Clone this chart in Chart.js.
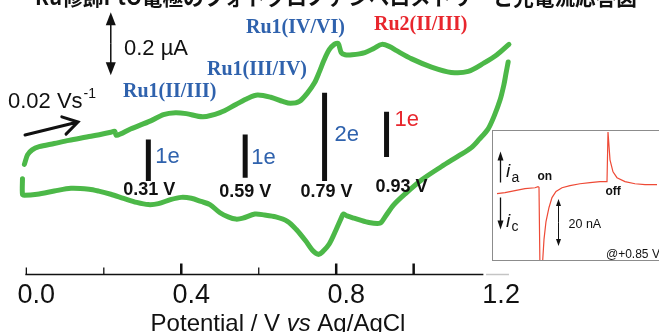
<!DOCTYPE html>
<html>
<head>
<meta charset="utf-8">
<script src="https://cdn.jsdelivr.net/npm/chart.js@4.4.1/dist/chart.umd.min.js"></script>
<style>
  html, body { margin: 0; padding: 0; background: #fff; overflow: hidden; }
  #wrap { position: relative; width: 659px; height: 332px; }
  #cv { position: absolute; left: 0; top: 0; }
  #inset { position: absolute; left: 492px; top: 130px; width: 170px; height: 129px;
           border: 1.5px solid #8c8c8c; background: #fff; }
  #insetCv { display: block; }
</style>
</head>
<body>
<div id="wrap">
  <canvas id="cv" width="659" height="332"></canvas>
  <div id="inset"><canvas id="insetCv" width="170" height="129"></canvas></div>
</div>
<script>
// === Voltammogramme cyclique : valeurs (V, µA relatifs) ===
const forwardV = [-0.005, 0.003, 0.015, 0.033, 0.072, 0.110, 0.167, 0.218, 0.228, 0.233, 0.269, 0.321, 0.354, 0.385, 0.413, 0.456, 0.500, 0.541, 0.572, 0.597, 0.631, 0.662, 0.682, 0.705, 0.726, 0.744, 0.756, 0.769, 0.782, 0.795, 0.805, 0.813, 0.823, 0.841, 0.874, 0.897, 0.918, 0.938, 0.956, 0.995, 1.046, 1.097, 1.141, 1.182, 1.215, 1.246];
const forwardI = [-0.202, -0.172, -0.156, -0.146, -0.136, -0.126, -0.113, -0.100, -0.097, -0.110, -0.090, -0.064, -0.044, -0.038, -0.041, -0.051, -0.038, -0.012, 0.008, 0.018, 0.011, -0.002, -0.008, -0.002, 0.025, 0.057, 0.090, 0.130, 0.162, 0.179, 0.182, 0.153, 0.146, 0.146, 0.153, 0.166, 0.179, 0.172, 0.159, 0.133, 0.107, 0.090, 0.093, 0.120, 0.146, 0.179];

const reverseV = [1.244, 1.238, 1.233, 1.223, 1.208, 1.192, 1.169, 1.149, 1.115, 1.072, 1.021, 0.977, 0.949, 0.926, 0.913, 0.882, 0.846, 0.828, 0.818, 0.813, 0.800, 0.782, 0.764, 0.754, 0.738, 0.721, 0.697, 0.674, 0.644, 0.615, 0.590, 0.559, 0.541, 0.521, 0.500, 0.474, 0.451, 0.426, 0.400, 0.372, 0.341, 0.315, 0.285, 0.251, 0.218, 0.187, 0.162, 0.115, 0.072, 0.028, -0.005, -0.010, -0.010];
const reverseI = [0.123, 0.084, 0.051, 0.002, -0.048, -0.090, -0.123, -0.149, -0.176, -0.209, -0.251, -0.297, -0.330, -0.369, -0.389, -0.386, -0.373, -0.366, -0.360, -0.373, -0.409, -0.455, -0.481, -0.488, -0.474, -0.445, -0.409, -0.383, -0.369, -0.363, -0.360, -0.373, -0.376, -0.369, -0.356, -0.330, -0.320, -0.310, -0.307, -0.314, -0.327, -0.330, -0.323, -0.310, -0.297, -0.287, -0.281, -0.278, -0.287, -0.297, -0.300, -0.297, -0.248];

// axe des potentiels
const xTickValues = [0, 0.2, 0.4, 0.6, 0.8, 1.0, 1.2];
const xTickLabels = ['0.0', '', '0.4', '', '0.8', '', '1.2'];
const majorTicks = [0.4, 0.8, 1.0];

// vagues redox : barres n électrons
const waveNames = ['Ru1(II/III)', 'Ru1(III/IV)', 'Ru1(IV/VI)', 'Ru2(II/III)'];
const waveE = ['0.31 V', '0.59 V', '0.79 V', '0.93 V'];
const waveN = ['1e', '1e', '2e', '1e'];
const barV = [0.315, 0.565, 0.770, 0.930];
const barTop = [-0.123, -0.107, 0.025, -0.035];
const barBottom = [-0.255, -0.245, -0.255, -0.179];

const scaleBarCurrent = 0.2; // µA

// === Encart : photocourant à +0.85 V (s, nA) ===
const insetT = [1.2, 3.6, 6.6, 9.6, 12.6, 13.5, 13.8, 14.1, 14.7, 15.3, 15.9, 16.8, 17.7, 18.9, 20.7, 23.1, 26.1, 29.1, 32.1, 34.2, 34.5, 35.1, 36.0, 37.2, 39.6, 42.6, 45.6, 49.2];
const insetI = [-1.7, -1.3, -0.4, 0.4, 0.8, 1.3, 1.0, -35, -35, -21.2, -13.6, -7.6, -3.4, -0.8, 0.8, 1.7, 2.5, 3.0, 3.4, 3.4, 24.6, 12.7, 7.6, 5.1, 3.4, 2.5, 2.1, 2.1];
const insetScaleBar = 20; // nA

const GREEN = '#4cb848';
const BLUE = '#2f62ad';
const RED = '#e8262d';
const SANS = '"Liberation Sans", Arial, sans-serif';
const SERIF = '"Liberation Serif", "Times New Roman", serif';

const toPoints = (xs, ys) => xs.map((v, i) => ({ x: v, y: ys[i] }));

function filledArrow(ctx, x, yFrom, yTo, w, h) {
  const dir = yTo > yFrom ? 1 : -1;
  ctx.beginPath();
  ctx.moveTo(x, yFrom);
  ctx.lineTo(x, yTo - dir * h * 0.8);
  ctx.stroke();
  ctx.beginPath();
  ctx.moveTo(x, yTo);
  ctx.lineTo(x - w / 2, yTo - dir * h);
  ctx.lineTo(x + w / 2, yTo - dir * h);
  ctx.closePath();
  ctx.fill();
}

// === Annotations du voltammogramme ===
const cvAnnotations = {
  id: 'cvAnnotations',
  afterDraw(chart) {
    const { ctx, chartArea } = chart;
    const xs = chart.scales.x, ys = chart.scales.y;
    const y0 = chartArea.bottom;
    ctx.save();

    // titre japonais coupé en haut
    ctx.fillStyle = '#111';
    ctx.font = 'bold 21px "Noto Sans CJK JP"';
    ctx.textBaseline = 'alphabetic';
    const jp = 'Ru修飾PtO電極のフォトクロノアンペロメトリーと光電流応答図';
    const w = ctx.measureText(jp).width;
    ctx.save();
    ctx.translate(35, 5);
    ctx.scale(602 / w, 1);
    ctx.fillText(jp, 0, 0);
    ctx.restore();

    // axe x et graduations vers l'intérieur
    ctx.strokeStyle = '#111';
    ctx.lineWidth = 1.5;
    ctx.beginPath();
    ctx.moveTo(xs.getPixelForValue(0) - 1, y0);
    ctx.lineTo(xs.getPixelForValue(1.18), y0);
    ctx.stroke();
    ctx.strokeStyle = '#c4c4c4';
    ctx.beginPath();
    ctx.moveTo(xs.getPixelForValue(1.187), y0);
    ctx.lineTo(xs.getPixelForValue(1.246), y0);
    ctx.stroke();
    ctx.strokeStyle = '#111';
    xTickValues.forEach(v => {
      if (v > 1.18) return;
      const px = xs.getPixelForValue(v);
      const major = majorTicks.includes(v);
      ctx.lineWidth = major ? 2.5 : 1.3;
      ctx.beginPath();
      ctx.moveTo(px, y0);
      ctx.lineTo(px, y0 - (major ? 11 : 7));
      ctx.stroke();
    });

    // titre de l'axe x, "vs" en italique
    const parts = [['Potential / V ', ''], ['vs', 'italic '], [' Ag/AgCl', '']];
    let total = 0;
    parts.forEach(p => { ctx.font = p[1] + '24px ' + SANS; total += ctx.measureText(p[0]).width; });
    let tx = 278 - total / 2;
    ctx.fillStyle = '#111';
    ctx.textAlign = 'left';
    parts.forEach(p => {
      ctx.font = p[1] + '24px ' + SANS;
      ctx.fillText(p[0], tx, 331);
      tx += ctx.measureText(p[0]).width;
    });

    // barre d'échelle 0.2 µA
    const sbx = xs.getPixelForValue(0.218);
    const sbTop = ys.getPixelForValue(0.081 + scaleBarCurrent);
    const sbBot = ys.getPixelForValue(0.081);
    const sbMid = (sbTop + sbBot) / 2;
    ctx.fillStyle = '#111';
    ctx.lineWidth = 1.5;
    filledArrow(ctx, sbx, sbMid, sbTop, 10, 13);
    filledArrow(ctx, sbx, sbMid, sbBot, 10, 13);
    ctx.font = '22px ' + SANS;
    ctx.fillText('0.2 µA', 124, 55);

    // vitesse de balayage
    ctx.fillText('0.02 Vs', 8, 108);
    const vsw = ctx.measureText('0.02 Vs').width;
    ctx.font = '14px ' + SANS;
    ctx.fillText('-1', 8 + vsw + 1, 98);

    // flèche du sens de balayage
    ctx.lineWidth = 3;
    ctx.lineCap = 'round';
    const ax1 = 25, ay1 = 135, ax2 = 78, ay2 = 122;
    const ang = Math.atan2(ay2 - ay1, ax2 - ax1);
    ctx.beginPath();
    ctx.moveTo(ax1, ay1);
    ctx.lineTo(ax2, ay2);
    ctx.moveTo(ax2 - 17 * Math.cos(ang - 0.55), ay2 - 17 * Math.sin(ang - 0.55));
    ctx.lineTo(ax2, ay2);
    ctx.lineTo(ax2 - 17 * Math.cos(ang + 0.55), ay2 - 17 * Math.sin(ang + 0.55));
    ctx.stroke();

    // noms des vagues
    ctx.font = 'bold 20px ' + SERIF;
    const namePos = [[123, 97, BLUE], [207, 75, BLUE], [246, 33, BLUE], [374, 30, RED]];
    waveNames.forEach((n, i) => {
      ctx.fillStyle = namePos[i][2];
      ctx.fillText(n, namePos[i][0], namePos[i][1]);
    });

    // n électrons et potentiels E1/2
    const nOffset = [[7, 163], [6, 164], [10, 141], [8, 126]];
    const nColor = [BLUE, BLUE, BLUE, RED];
    const eOffset = [[1, 195], [0, 197], [2, 197], [15, 192]];
    barV.forEach((v, i) => {
      const px = xs.getPixelForValue(v);
      ctx.font = '22px ' + SANS;
      ctx.fillStyle = nColor[i];
      ctx.textAlign = 'left';
      ctx.fillText(waveN[i], px + nOffset[i][0], nOffset[i][1]);
      ctx.font = 'bold 18px ' + SANS;
      ctx.fillStyle = '#111';
      ctx.textAlign = 'center';
      ctx.fillText(waveE[i], px + eOffset[i][0], eOffset[i][1]);
    });
    ctx.restore();
  }
};

const barDatasets = barV.map((v, i) => ({
  data: [{ x: v, y: barTop[i] }, { x: v, y: barBottom[i] }],
  showLine: true,
  borderColor: '#111',
  borderWidth: 5,
  pointRadius: 0,
  tension: 0
}));

new Chart(document.getElementById('cv'), {
  type: 'scatter',
  data: {
    datasets: [
      { data: toPoints(forwardV, forwardI), showLine: true, borderColor: GREEN, borderWidth: 5,
        pointRadius: 0, tension: 0.3, borderCapStyle: 'round', borderJoinStyle: 'round', clip: false },
      { data: toPoints(reverseV, reverseI), showLine: true, borderColor: GREEN, borderWidth: 5,
        pointRadius: 0, tension: 0.3, borderCapStyle: 'round', borderJoinStyle: 'round', clip: false },
      ...barDatasets
    ]
  },
  options: {
    responsive: false,
    animation: false,
    layout: { autoPadding: false, padding: { left: 2.5, right: 5.2, top: 0, bottom: 15.5 } },
    plugins: { legend: { display: false }, tooltip: { enabled: false } },
    scales: {
      x: {
        type: 'linear',
        min: -0.05,
        max: 1.62,
        grid: { display: false, drawTicks: false },
        border: { display: false },
        afterBuildTicks: scale => { scale.ticks = xTickValues.map(v => ({ value: v })); },
        ticks: {
          autoSkip: false,
          maxRotation: 0,
          padding: 7.5,
          labelOffset: 10,
          color: '#111',
          font: { family: SANS, size: 27, lineHeight: 1 },
          callback: (value, index) => xTickLabels[index]
        }
      },
      y: { display: false, min: -0.552, max: 0.32 }
    }
  },
  plugins: [cvAnnotations]
});

// === Encart photocourant ===
const insetAnnotations = {
  id: 'insetAnnotations',
  afterDraw(chart) {
    const { ctx } = chart;
    const xs = chart.scales.x, ys = chart.scales.y;
    ctx.save();
    ctx.fillStyle = '#111';
    ctx.strokeStyle = '#111';
    ctx.lineWidth = 1.3;
    filledArrow(ctx, 7.5, 51.5, 20.5, 6, 9);
    filledArrow(ctx, 7.5, 66.5, 98.5, 6, 9);
    ctx.font = 'italic 19px ' + SANS;
    ctx.fillText('i', 13, 45.5);
    ctx.fillText('i', 13, 95.5);
    ctx.font = '14px ' + SANS;
    ctx.fillText('a', 18.5, 51);
    ctx.fillText('c', 18.5, 100);
    ctx.font = 'bold 12px ' + SANS;
    ctx.fillText('on', 44.5, 48.5);
    ctx.fillText('off', 112.5, 63.5);

    // barre 20 nA
    const bx = xs.getPixelForValue(19.65);
    const bTop = ys.getPixelForValue(-4);
    const bBot = ys.getPixelForValue(-4 - insetScaleBar);
    const bMid = (bTop + bBot) / 2;
    ctx.lineWidth = 1;
    filledArrow(ctx, bx, bMid, bTop, 5, 7);
    filledArrow(ctx, bx, bMid, bBot, 5, 7);
    ctx.font = '12.5px ' + SANS;
    ctx.fillText('20 nA', 75.5, 96.5);
    ctx.font = '12px ' + SANS;
    ctx.fillText('@+0.85 V', 113, 127);
    ctx.restore();
  }
};

new Chart(document.getElementById('insetCv'), {
  type: 'scatter',
  data: {
    datasets: [{
      data: toPoints(insetT, insetI),
      showLine: true,
      borderColor: '#ee4a36',
      borderWidth: 1.2,
      pointRadius: 0,
      tension: 0
    }]
  },
  options: {
    responsive: false,
    animation: false,
    layout: { autoPadding: false, padding: 0 },
    plugins: { legend: { display: false }, tooltip: { enabled: false } },
    scales: {
      x: { type: 'linear', display: false, min: 0, max: 51 },
      y: { display: false, min: -30, max: 25 }
    }
  },
  plugins: [insetAnnotations]
});
</script>
</body>
</html>
